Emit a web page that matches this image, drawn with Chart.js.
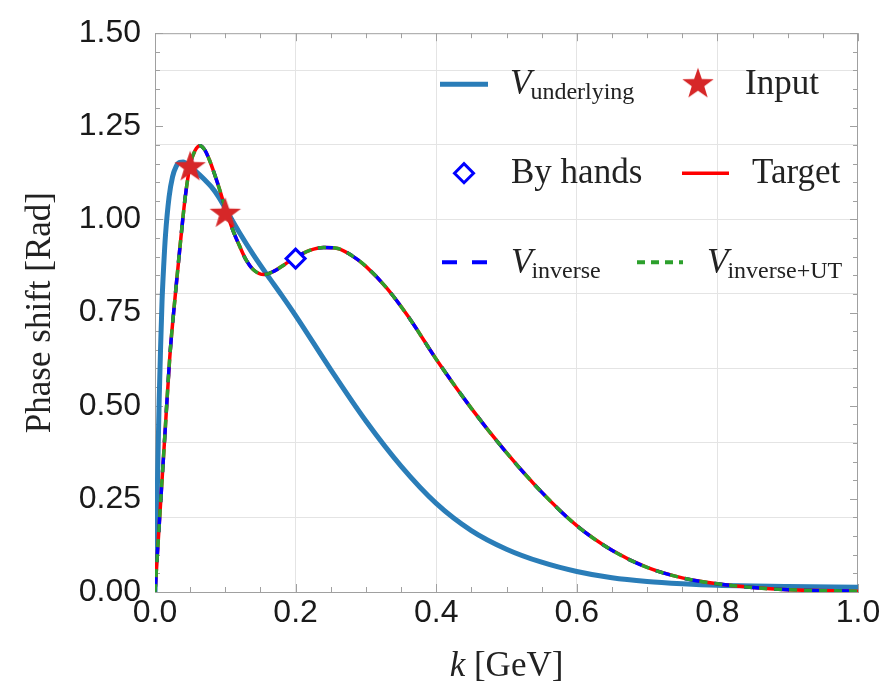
<!DOCTYPE html>
<html>
<head>
<meta charset="utf-8">
<script src="https://cdn.jsdelivr.net/npm/chart.js@4"></script>
<style>
  html, body { margin: 0; padding: 0; background: #fff; }
  canvas { display: block; }
</style>
</head>
<body>
<canvas id="chart" width="892" height="693"></canvas>
<script>
// momentum k in GeV, phase shift in rad
const kUnderlying = [0, 0.002, 0.004, 0.006, 0.008, 0.010, 0.0125, 0.015, 0.02, 0.025, 0.03, 0.035, 0.04, 0.05,
  0.06, 0.07, 0.08, 0.09, 0.1, 0.12, 0.14, 0.16, 0.18, 0.2, 0.25, 0.3, 0.35, 0.4, 0.45, 0.5, 0.55, 0.6, 0.65,
  0.7, 0.75, 0.8, 0.9, 1.0];
const phaseUnderlying = [0, 0.15, 0.34, 0.52, 0.66, 0.78, 0.88, 0.96, 1.06, 1.115, 1.142, 1.153, 1.154, 1.142,
  1.126, 1.108, 1.088, 1.062, 1.03, 0.965, 0.905, 0.85, 0.797, 0.742, 0.597, 0.459, 0.338, 0.238, 0.165, 0.115,
  0.08, 0.055, 0.038, 0.028, 0.022, 0.018, 0.015, 0.013];

const kTarget = [0, 0.007, 0.014, 0.021, 0.029, 0.036, 0.043, 0.05, 0.057, 0.064, 0.071, 0.078, 0.085, 0.092,
  0.1, 0.11, 0.12, 0.13, 0.14, 0.155, 0.17, 0.185, 0.2, 0.22, 0.24, 0.26, 0.28, 0.3, 0.33, 0.36, 0.4, 0.45, 0.5,
  0.55, 0.6, 0.65, 0.7, 0.75, 0.8, 0.85, 0.9, 1.0];
const phaseTarget = [0, 0.21, 0.42, 0.63, 0.8, 0.935, 1.06, 1.146, 1.185, 1.198, 1.186, 1.157, 1.12, 1.08,
  1.03, 0.975, 0.93, 0.89, 0.865, 0.852, 0.862, 0.88, 0.898, 0.917, 0.925, 0.922, 0.903, 0.874, 0.815, 0.74,
  0.625, 0.493, 0.374, 0.268, 0.178, 0.112, 0.066, 0.038, 0.022, 0.012, 0.006, 0.002];

// V_inverse and V_inverse+UT lie on top of the target curve
const phaseInverse = phaseTarget;
const phaseInverseUT = phaseTarget;

const kInput = [0.05, 0.1];
const phaseInput = [1.143, 1.018];

const kByHands = [0.2];
const phaseByHands = [0.895];

const blueUnderlying = '#2a7db8';
const starRed = '#d62728';

const pts = (xs, ys) => xs.map((x, i) => ({x: x, y: ys[i]}));

// filled five-pointed star used as point style
const star = document.createElement('canvas');
star.width = 34; star.height = 34;
(function () {
  const c = star.getContext('2d');
  c.fillStyle = starRed;
  c.beginPath();
  for (let i = 0; i < 10; i++) {
    const r = i % 2 === 0 ? 16.5 : 6.6;
    const a = -Math.PI / 2 + i * Math.PI / 5;
    const px = 17 + r * Math.cos(a), py = 18 + r * Math.sin(a);
    if (i === 0) c.moveTo(px, py); else c.lineTo(px, py);
  }
  c.closePath();
  c.fill();
})();

const near = (v, step) => Math.round(v * 100) % Math.round(step * 100) === 0;

const frame = {
  id: 'frame',
  beforeDatasetsDraw(chart) {
    const {ctx, chartArea: a, scales: {x, y}} = chart;
    ctx.save();
    ctx.strokeStyle = '#a0a0a0';
    ctx.lineWidth = 1;
    ctx.beginPath();
    ctx.moveTo(a.left, a.top + 0.5); ctx.lineTo(a.right, a.top + 0.5);
    ctx.moveTo(a.right - 0.5, a.top); ctx.lineTo(a.right - 0.5, a.bottom);
    x.ticks.forEach(t => {
      const p = Math.round(x.getPixelForValue(t.value)) + 0.5;
      const len = near(t.value, 0.2) ? 8 : 5;
      ctx.moveTo(p, a.bottom); ctx.lineTo(p, a.bottom - len);
      ctx.moveTo(p, a.top); ctx.lineTo(p, a.top + len);
    });
    y.ticks.forEach(t => {
      const p = Math.round(y.getPixelForValue(t.value)) + 0.5;
      const len = near(t.value, 0.25) ? 8 : 5;
      ctx.moveTo(a.left, p); ctx.lineTo(a.left + len, p);
      ctx.moveTo(a.right, p); ctx.lineTo(a.right - len, p);
    });
    ctx.stroke();
    ctx.restore();
  },
  afterDraw(chart) {
    const {ctx, chartArea: a} = chart;
    const L = a.left, T = a.top;
    ctx.save();
    ctx.fillStyle = '#222';
    ctx.textBaseline = 'alphabetic';

    const serif = (size, italic) => (italic ? 'italic ' : '') + size + 'px "Liberation Serif", serif';
    const vSub = (x0, base, sub) => {
      ctx.font = serif(35, true);
      ctx.fillText('V', x0, base);
      const w = ctx.measureText('V').width;
      ctx.font = serif(24, false);
      ctx.fillText(sub, x0 + w - 1, base + 5);
    };
    const seg = (x1, x2, yy, color, width, dash) => {
      ctx.save();
      ctx.strokeStyle = color; ctx.lineWidth = width; ctx.setLineDash(dash);
      ctx.beginPath(); ctx.moveTo(x1, yy); ctx.lineTo(x2, yy); ctx.stroke();
      ctx.restore();
    };

    // row 1
    seg(L + 285, L + 333, T + 51, blueUnderlying, 5, []);
    vSub(L + 355, T + 61, 'underlying');
    ctx.drawImage(star, L + 543 - 17, T + 51 - 18);
    ctx.font = serif(35, false);
    ctx.fillText('Input', L + 590, T + 61);

    // row 2
    ctx.save();
    ctx.strokeStyle = '#0000ff'; ctx.fillStyle = '#fff'; ctx.lineWidth = 3;
    const dx = L + 309, dy = T + 140, r = 9.5;
    ctx.beginPath();
    ctx.moveTo(dx - r, dy); ctx.lineTo(dx, dy - r); ctx.lineTo(dx + r, dy); ctx.lineTo(dx, dy + r);
    ctx.closePath(); ctx.fill(); ctx.stroke();
    ctx.restore();
    ctx.font = serif(35, false);
    ctx.fillText('By hands', L + 356, T + 150);
    seg(L + 527, L + 574, T + 140, '#ff0000', 3.5, []);
    ctx.font = serif(35, false);
    ctx.fillText('Target', L + 597, T + 150);

    // row 3
    seg(L + 287, L + 333, T + 229, '#0000ff', 4, [15, 15]);
    vSub(L + 356, T + 240, 'inverse');
    seg(L + 482, L + 528, T + 229, '#2ca02c', 4, [8, 6]);
    vSub(L + 552, T + 240, 'inverse+UT');

    // x axis title
    const xc = (a.left + a.right) / 2;
    ctx.font = serif(35, true);
    const wk = ctx.measureText('k').width;
    ctx.font = serif(35, false);
    const wr = ctx.measureText(' [GeV]').width;
    const x0 = xc - (wk + wr) / 2;
    ctx.font = serif(35, true);
    ctx.fillText('k', x0, 676);
    ctx.font = serif(35, false);
    ctx.fillText(' [GeV]', x0 + wk, 676);
    ctx.restore();
  }
};

const lineSet = (label, ys, color, width, dash) => ({
  label: label,
  data: pts(kTarget, ys),
  showLine: true,
  borderColor: color,
  borderWidth: width,
  borderDash: dash,
  pointRadius: 0,
  cubicInterpolationMode: 'monotone'
});

new Chart(document.getElementById('chart').getContext('2d'), {
  type: 'scatter',
  data: {
    datasets: [
      {
        label: 'Input',
        data: pts(kInput, phaseInput),
        pointStyle: star,
        pointRadius: 16
      },
      {
        label: 'By hands',
        data: pts(kByHands, phaseByHands),
        pointStyle: 'rectRot',
        pointRadius: 9.5,
        borderWidth: 3,
        borderColor: '#0000ff',
        backgroundColor: '#ffffff'
      },
      lineSet('V inverse+UT', phaseInverseUT, '#2ca02c', 3.5, [8, 7]),
      lineSet('V inverse', phaseInverse, '#0000ff', 3.5, [15, 15]),
      lineSet('Target', phaseTarget, '#ff0000', 3.5, []),
      {
        label: 'V underlying',
        data: pts(kUnderlying, phaseUnderlying),
        showLine: true,
        borderColor: blueUnderlying,
        borderWidth: 5,
        pointRadius: 0,
        cubicInterpolationMode: 'monotone'
      }
    ]
  },
  options: {
    responsive: false,
    animation: false,
    layout: {padding: {top: 22, right: 34, left: 0, bottom: 0}},
    plugins: {legend: {display: false}, tooltip: {enabled: false}},
    scales: {
      x: {
        type: 'linear',
        min: 0, max: 1,
        afterFit: s => { s.height = 101; },
        border: {color: '#a0a0a0'},
        grid: {
          drawTicks: false,
          color: c => (c.tick && near(c.tick.value, 0.2) && c.tick.value > 0.01 && c.tick.value < 0.99) ? '#e4e4e4' : 'rgba(0,0,0,0)'
        },
        ticks: {
          stepSize: 0.05,
          autoSkip: false,
          maxRotation: 0,
          padding: 2,
          color: '#1a1a1a',
          font: {family: '"Liberation Sans", Arial, sans-serif', size: 32},
          callback: v => near(v, 0.2) ? v.toFixed(1) : ''
        }
      },
      y: {
        type: 'linear',
        min: 0, max: 1.5,
        afterFit: s => { s.width = 155; },
        border: {color: '#a0a0a0'},
        grid: {
          drawTicks: false,
          color: c => (c.tick && near(c.tick.value, 0.2) && c.tick.value > 0.01) ? '#e4e4e4' : 'rgba(0,0,0,0)'
        },
        ticks: {
          stepSize: 0.05,
          autoSkip: false,
          padding: 14,
          color: '#1a1a1a',
          font: {family: '"Liberation Sans", Arial, sans-serif', size: 32},
          callback: v => near(v, 0.25) ? v.toFixed(2) : ''
        },
        title: {
          display: true,
          text: 'Phase shift [Rad]',
          color: '#222',
          font: {family: '"Liberation Serif", serif', size: 35},
          padding: {top: 20, bottom: 0}
        }
      }
    }
  },
  plugins: [frame]
});
</script>
</body>
</html>
